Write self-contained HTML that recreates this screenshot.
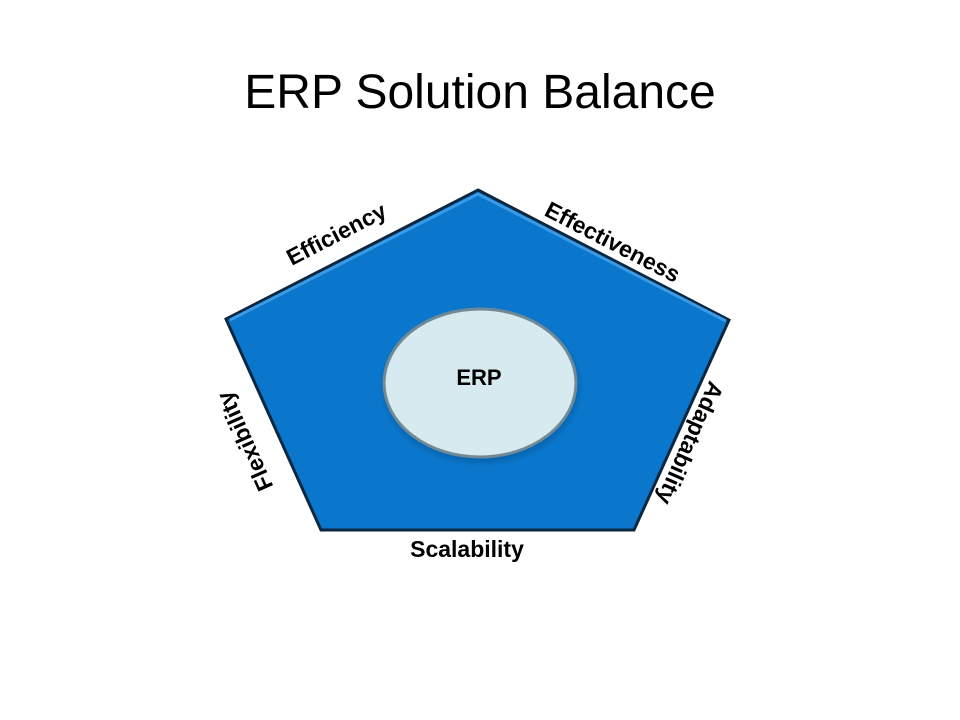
<!DOCTYPE html>
<html><head><meta charset="utf-8"><style>
html,body{margin:0;padding:0;background:#fff;}
body{width:960px;height:720px;overflow:hidden;position:relative;font-family:"Liberation Sans",Arial,sans-serif;}
</style></head><body>
<svg width="960" height="720" viewBox="0 0 960 720" xmlns="http://www.w3.org/2000/svg" style="position:absolute;left:0;top:0">
<defs>
<radialGradient id="sh" cx="50%" cy="50%" r="50%">
<stop offset="80%" stop-color="#003a70" stop-opacity="0.6"/>
<stop offset="100%" stop-color="#003a70" stop-opacity="0"/>
</radialGradient>
</defs>
<text x="480" y="108" text-anchor="middle" font-size="48" fill="#000" font-family="Liberation Sans, Arial, sans-serif">ERP Solution Balance</text>
<polygon points="478,190 729,320 634,530 321,530 226,319" fill="#0a77cc" stroke="#0b2740" stroke-width="3" stroke-linejoin="miter"/>
<polyline points="230,320 478,194 726,321" fill="none" stroke="#3a9ae6" stroke-width="3"/>
<ellipse cx="481" cy="387" rx="103" ry="80" fill="url(#sh)"/>
<ellipse cx="480" cy="383" rx="96" ry="74" fill="#d7eaf0" stroke="#6f8a96" stroke-width="3"/>
<g font-family="Liberation Sans, Arial, sans-serif" font-weight="bold" font-size="23" fill="#000" text-anchor="middle">
<text x="479" y="385" font-size="22">ERP</text>
<text transform="translate(340,241) rotate(-27.4)">Efficiency</text>
<text transform="translate(609,249) rotate(27.4)">Effectiveness</text>
<text transform="translate(252,438) rotate(-114)">Flexibility</text>
<text transform="translate(683,440) rotate(114)">Adaptability</text>
<text x="467" y="557">Scalability</text>
</g>
</svg>
</body></html>
